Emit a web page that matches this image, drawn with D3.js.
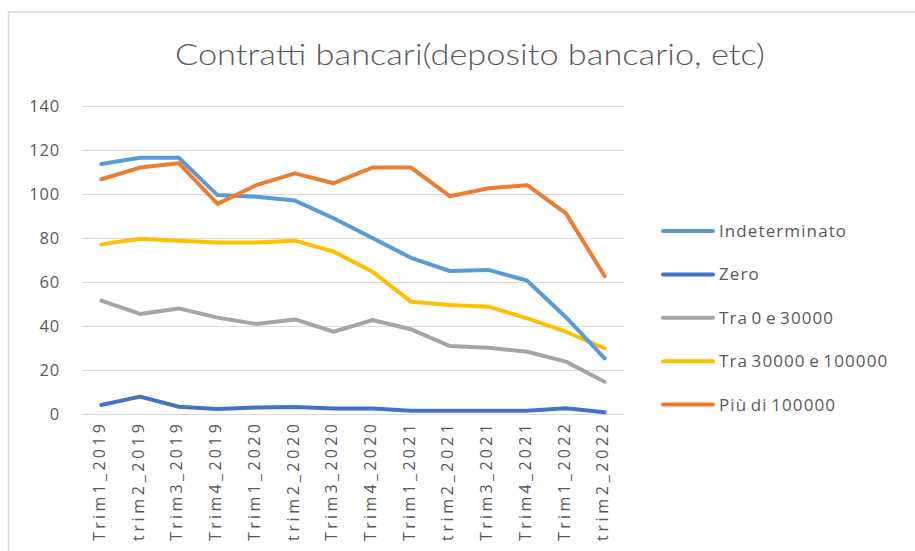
<!DOCTYPE html>
<html>
<head>
<meta charset="utf-8">
<script src="https://cdn.jsdelivr.net/npm/d3@7"></script>
<style>
  body { margin: 0; background: #fff; }
  text { font-family: "Open Sans", Lato, sans-serif; fill: #595959; }
</style>
</head>
<body>
<script>
// data
var categories = ["Trim1_2019", "trim2_2019", "Trim3_2019", "Trim4_2019",
  "Trim1_2020", "trim2_2020", "Trim3_2020", "Trim4_2020",
  "Trim1_2021", "trim2_2021", "Trim3_2021", "Trim4_2021",
  "Trim1_2022", "trim2_2022"];

var indeterminato = [113.6, 116.5, 116.5, 99.5, 98.8, 97, 89, 80, 71, 65, 65.5, 60.6, 44, 25.3];
var zero          = [4.1, 7.9, 3.3, 2.3, 3, 3.2, 2.5, 2.5, 1.5, 1.5, 1.5, 1.5, 2.6, 0.8];
var tra0_30       = [51.5, 45.5, 48, 43.8, 40.9, 43, 37.4, 42.7, 38.5, 30.9, 30.1, 28.3, 23.8, 14.7];
var tra30_100     = [77.1, 79.7, 78.8, 78, 78, 78.8, 73.8, 64.7, 51, 49.5, 48.8, 43.5, 37.4, 29.9];
var piuDi100      = [106.7, 112, 114, 95.5, 104, 109.4, 104.9, 112, 112, 99, 102.6, 104, 91.2, 62.7];

var seriesNames = ["Indeterminato", "Zero", "Tra 0 e 30000", "Tra 30000 e 100000", "Più di 100000"];
var seriesValues = [indeterminato, zero, tra0_30, tra30_100, piuDi100];
var seriesColors = ["#5b9bd5", "#4472c4", "#a5a5a5", "#ffc000", "#ed7d31"];
var drawOrder = [1, 2, 3, 0, 4]; // indeterminato under orange
var yTicks = [0, 20, 40, 60, 80, 100, 120, 140];

var W = 915, H = 551;
var plot = {left: 82, right: 624, top: 106, bottom: 414};

var svg = d3.select("body").append("svg")
  .attr("width", W)
  .attr("height", H);

// chart border
svg.append("rect")
  .attr("x", 8.5).attr("y", 12)
  .attr("width", W).attr("height", H)
  .attr("fill", "none")
  .attr("stroke", "#d9d9d9")
  .attr("stroke-width", 1.5);

var x = d3.scaleBand()
  .domain(categories)
  .range([plot.left, plot.right]);

var y = d3.scaleLinear()
  .domain([0, 140])
  .range([plot.bottom, plot.top]);

// grid
svg.append("g")
  .selectAll("line")
  .data(yTicks)
  .enter().append("line")
  .attr("x1", plot.left).attr("x2", plot.right)
  .attr("y1", function(d) { return Math.round(y(d)) + 0.5; })
  .attr("y2", function(d) { return Math.round(y(d)) + 0.5; })
  .attr("stroke", "#d9d9d9")
  .attr("stroke-width", 1);

// y axis
var yAxis = d3.axisLeft(y).tickValues(yTicks).tickSize(0).tickPadding(0);
var gy = svg.append("g")
  .attr("transform", "translate(60,0)")
  .call(yAxis);
gy.select(".domain").remove();
gy.selectAll("text")
  .style("font-family", "'Open Sans', sans-serif")
  .style("font-size", "16.5px")
  .style("letter-spacing", "0.8px")
  .attr("fill", "#595959")
  .attr("dy", "0.35em");

// x axis
var xAxis = d3.axisBottom(x).tickSize(0).tickPadding(0);
var gx = svg.append("g")
  .attr("transform", "translate(0," + plot.bottom + ")")
  .call(xAxis);
gx.select(".domain").remove();
gx.selectAll("text")
  .style("font-family", "'Open Sans', sans-serif")
  .style("font-size", "16px")
  .attr("fill", "#595959")
  .attr("text-anchor", "end")
  .attr("textLength", 117)
  .attr("lengthAdjust", "spacing")
  .attr("transform", "translate(-2,10) rotate(-90)")
  .attr("x", 0)
  .attr("y", 0)
  .attr("dy", "0.35em");

// lines
var line = d3.line()
  .x(function(d, i) { return x(categories[i]) + x.bandwidth() / 2; })
  .y(function(d) { return y(d); });

svg.append("g")
  .selectAll("path")
  .data(drawOrder)
  .enter().append("path")
  .attr("d", function(k) { return line(seriesValues[k]); })
  .attr("fill", "none")
  .attr("stroke", function(k) { return seriesColors[k]; })
  .attr("stroke-width", 4)
  .attr("stroke-linejoin", "round")
  .attr("stroke-linecap", "round");

// title
svg.append("text")
  .attr("x", 470)
  .attr("y", 65)
  .attr("text-anchor", "middle")
  .attr("textLength", 590)
  .attr("lengthAdjust", "spacingAndGlyphs")
  .style("font-family", "Lato, sans-serif")
  .style("font-size", "30px")
  .style("font-weight", 300)
  .text("Contratti bancari(deposito bancario, etc)");

// legend
var legend = svg.append("g")
  .selectAll("g")
  .data(seriesNames)
  .enter().append("g")
  .attr("transform", function(d, i) { return "translate(663," + (231 + i * 43.4) + ")"; });

legend.append("line")
  .attr("x1", 0).attr("x2", 50)
  .attr("stroke", function(d, i) { return seriesColors[i]; })
  .attr("stroke-width", 4)
  .attr("stroke-linecap", "round");

legend.append("text")
  .attr("x", 56)
  .attr("dy", "0.35em")
  .style("font-size", "17px")
  .style("letter-spacing", "1.1px")
  .style("word-spacing", "-2px")
  .text(function(d) { return d; });
</script>
</body>
</html>
